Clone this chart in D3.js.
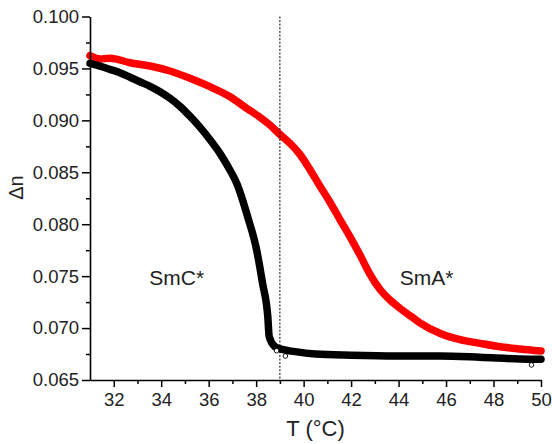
<!DOCTYPE html>
<html>
<head>
<meta charset="utf-8">
<script src="https://cdn.jsdelivr.net/npm/d3@7/dist/d3.min.js"></script>
<style>
  html, body { margin: 0; padding: 0; background: #fff; }
  svg text { font-family: "Liberation Sans", Arial, Helvetica, sans-serif; fill: #222; }
</style>
</head>
<body>
<svg id="chart" width="552" height="444"></svg>
<script>
// Birefringence vs temperature, two mixtures
const smaT = [31.0, 31.42, 31.84, 32.69, 33.53, 34.37, 35.21, 36.05, 36.9, 37.6, 38.1, 38.58, 39.0, 39.42, 39.85, 40.27, 40.69, 41.11, 41.53, 41.95, 42.37, 42.79, 43.22, 43.64, 44.06, 44.48, 44.9, 45.74, 46.59, 47.43, 48.27, 49.11, 50.0];
const smaN = [0.09623, 0.09591, 0.09598, 0.09555, 0.09523, 0.09475, 0.09405, 0.09324, 0.09228, 0.09116, 0.0904, 0.08955, 0.08865, 0.0878, 0.0867, 0.08525, 0.08365, 0.08212, 0.08045, 0.0788, 0.07705, 0.0752, 0.07372, 0.0727, 0.0719, 0.0712, 0.0705, 0.0695, 0.06888, 0.06853, 0.06821, 0.06799, 0.0678];

const smcT = [31.0, 31.42, 31.84, 32.26, 32.69, 33.1, 33.53, 33.95, 34.37, 34.79, 35.21, 35.63, 36.05, 36.48, 36.9, 37.18, 37.64, 38.02, 38.27, 38.49, 38.55, 38.79, 39.0, 39.64, 40.5, 42.0, 44.0, 45.74, 47.43, 49.11, 50.0];
const smcN = [0.09549, 0.09523, 0.09491, 0.09459, 0.09415, 0.09372, 0.09328, 0.09276, 0.09212, 0.09135, 0.0904, 0.08935, 0.08815, 0.0868, 0.0852, 0.08394, 0.08073, 0.07752, 0.07431, 0.0711, 0.06917, 0.06821, 0.068, 0.06773, 0.0675, 0.06738, 0.06731, 0.06731, 0.06719, 0.06702, 0.06699];

// Stray open-circle readings off the black band
const strayT = [38.86, 39.23, 49.6];
const strayN = [0.06782, 0.06731, 0.06645];

const xMajor = [32, 34, 36, 38, 40, 42, 44, 46, 48, 50];
const xMinor = [33, 35, 37, 39, 41, 43, 45, 47, 49];
const yMajor = [0.065, 0.070, 0.075, 0.080, 0.085, 0.090, 0.095, 0.100];
const yMinor = [0.0675, 0.0725, 0.0775, 0.0825, 0.0875, 0.0925, 0.0975];

const transitionT = 39;
const phaseLabels = [{ text: "SmC*", t: 33.5, n: 0.0741 }, { text: "SmA*", t: 44.05, n: 0.0741 }];

const svg = d3.select("#chart");
const plotLeft = 90, plotRight = 541, plotTop = 16.5, plotBottom = 380;

const x = d3.scaleLinear().domain([31, 50]).range([plotLeft, plotRight]);
const y = d3.scaleLinear().domain([0.065, 0.100]).range([plotBottom, plotTop]);

// curves
const line = d3.line().x(d => x(d[0])).y(d => y(d[1])).curve(d3.curveMonotoneX);
const curves = [
  { t: smaT, n: smaN, color: "#ff0000" },
  { t: smcT, n: smcN, color: "#000000" }
];
curves.forEach(c => {
  svg.append("path")
    .datum(d3.zip(c.t, c.n))
    .attr("d", line)
    .attr("fill", "none")
    .attr("stroke", c.color)
    .attr("stroke-width", 7.5)
    .attr("stroke-linecap", "round")
    .attr("stroke-linejoin", "round");
});

svg.selectAll("circle.stray")
  .data(d3.zip(strayT, strayN))
  .join("circle")
  .attr("class", "stray")
  .attr("cx", d => x(d[0]))
  .attr("cy", d => y(d[1]))
  .attr("r", 2.3)
  .attr("fill", "#fff")
  .attr("stroke", "#000")
  .attr("stroke-width", 0.9);

// phase transition marker
svg.append("line")
  .attr("x1", x(transitionT)).attr("x2", x(transitionT))
  .attr("y1", y(0.100)).attr("y2", y(0.065))
  .attr("stroke", "#000")
  .attr("stroke-width", 1)
  .attr("stroke-dasharray", "2,1.6");

// axes
const fmt = d3.format(".3f");
const gx = svg.append("g").attr("transform", `translate(0,${plotBottom})`);
gx.call(d3.axisBottom(x).tickValues(xMajor).tickSize(7).tickPadding(6).tickSizeOuter(0));
const gxm = svg.append("g").attr("transform", `translate(0,${plotBottom})`);
gxm.call(d3.axisBottom(x).tickValues(xMinor).tickSize(4).tickFormat(""));
gxm.select(".domain").remove();

const gy = svg.append("g").attr("transform", `translate(${plotLeft},0)`);
gy.call(d3.axisLeft(y).tickValues(yMajor).tickFormat(fmt).tickSize(8).tickPadding(3).tickSizeOuter(0));
const gym = svg.append("g").attr("transform", `translate(${plotLeft},0)`);
gym.call(d3.axisLeft(y).tickValues(yMinor).tickSize(4).tickFormat(""));
gym.select(".domain").remove();

svg.selectAll(".domain").attr("stroke", "#000").attr("stroke-width", 1.6);
svg.selectAll(".tick line").attr("stroke", "#000").attr("stroke-width", 1.5);
svg.selectAll(".tick text").attr("font-size", 18.5).attr("fill", "#222")
  .style("font-family", '"Liberation Sans", Arial, sans-serif');

// axis titles
svg.append("text")
  .attr("x", 315.5).attr("y", 436)
  .attr("text-anchor", "middle")
  .attr("font-size", 22)
  .text("T (°C)");

svg.append("text")
  .attr("transform", "translate(23,187.5) rotate(-90)")
  .attr("text-anchor", "middle")
  .attr("font-size", 20)
  .text("Δn");

// phase labels
svg.selectAll("text.phase")
  .data(phaseLabels)
  .join("text")
  .attr("class", "phase")
  .attr("x", d => x(d.t))
  .attr("y", d => y(d.n))
  .attr("font-size", 21)
  .text(d => d.text);
</script>
</body>
</html>
